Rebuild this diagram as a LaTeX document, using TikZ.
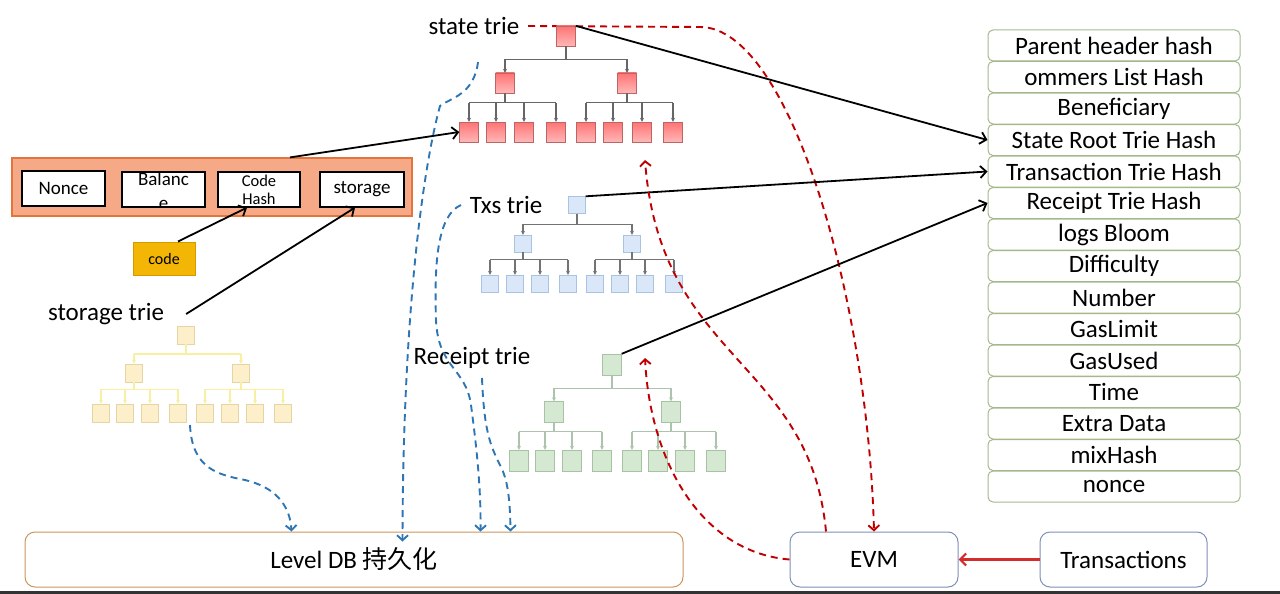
\documentclass[tikz,border=0pt]{standalone}
\usepackage{fontspec}
\setmainfont{Carlito}
\newfontfamily\cjkfont{Noto Sans CJK SC}
\usetikzlibrary{positioning, arrows.meta, calc, backgrounds}

\definecolor{hdgreen}{HTML}{A3B98C}
\definecolor{acctfill}{HTML}{F5A987}
\definecolor{acctdraw}{HTML}{E2743E}
\definecolor{codefill}{HTML}{F3B605}
\definecolor{codedraw}{HTML}{D49A00}
\definecolor{dbdraw}{HTML}{C9965C}
\definecolor{evmdraw}{HTML}{7F8FB8}
\definecolor{dbblue}{HTML}{2E75B6}
\definecolor{evmred}{HTML}{C00000}
\definecolor{txred}{HTML}{D42C2C}
\definecolor{txsfill}{HTML}{DAE7F8}
\definecolor{txsdraw}{HTML}{A9C3E2}
\definecolor{rcptfill}{HTML}{D5E8D2}
\definecolor{rcptdraw}{HTML}{A7C4A2}
\definecolor{storfill}{HTML}{FDEFC9}
\definecolor{stordraw}{HTML}{E6D5A4}

\tikzset{
  field/.style={draw=black, fill=white, line width=1.2pt, minimum width=83pt, minimum height=35pt, inner sep=0pt, font=\fontsize{19}{23}\selectfont},
  acctbox/.style={draw=acctdraw, fill=acctfill, line width=1.2pt, minimum width=400pt, minimum height=58pt},
  codebox/.style={draw=codedraw, fill=codefill, line width=1pt, minimum width=62pt, minimum height=33pt, font=\fontsize{16}{19}\selectfont},
  hdbox/.style={draw=hdgreen, fill=white, rounded corners=5pt, line width=1pt, minimum width=252pt, minimum height=31pt, inner sep=0pt, font=\fontsize{25}{29}\selectfont},
  bigbox/.style={fill=white, rounded corners=10pt, line width=1pt, minimum height=55pt, font=\fontsize{25}{29}\selectfont},
  trielabel/.style={inner sep=0pt, font=\fontsize{25}{29}\selectfont},
  statebox/.style={draw=red!55!black!60, top color=red!55!white, bottom color=red!28!white, minimum width=19pt, minimum height=20pt, inner sep=0pt},
  stateline/.style={draw=black!60, line width=1.1pt},
  txsbox/.style={draw=txsdraw, fill=txsfill, minimum width=17pt, minimum height=17pt, inner sep=0pt},
  txsline/.style={draw=black!55, line width=1.1pt},
  storbox/.style={draw=stordraw, fill=storfill, minimum width=17pt, minimum height=18pt, inner sep=0pt},
  storline/.style={draw=brown!30!yellow!40, line width=1.1pt},
  rcptbox/.style={draw=rcptdraw, fill=rcptfill, minimum width=19pt, minimum height=21pt, inner sep=0pt},
  rcptline/.style={draw=green!15!gray!55, line width=1.1pt},
  treetip/.style={-{Stealth[length=4pt,width=4pt]}},
  link/.style={line width=1.8pt, -{Straight Barb[length=6pt,width=12pt]}},
  redlink/.style={draw=txred, line width=2.2pt, -{Straight Barb[length=6pt,width=12pt]}},
  bluedash/.style={draw=dbblue, line width=1.9pt, dash pattern=on 7pt off 5pt, -{Straight Barb[length=5pt,width=11pt]}},
  reddash/.style={draw=evmred, line width=1.9pt, dash pattern=on 7pt off 5pt, -{Straight Barb[length=5pt,width=11pt]}}
}

% one trie: prefix, kind, root, level y, leaf y, left x, right x, leaf xs
\newcommand{\trie}[8]{%
  \node[#2box] (#1r) at (#3) {};
  \node[#2box] (#1a) at (#6,#4) {};
  \node[#2box] (#1b) at (#7,#4) {};
  \foreach \x [count=\i] in {#8} \node[#2box] (#1l\i) at (\x,#5) {};
  \coordinate (#1m) at ($(#1r.south)!.5!(#1r.south |- #1a.north)$);
  \coordinate (#1n) at ($(#1a.south)!.33!(#1a.south |- #1l1.north)$);
  \draw[#2line] (#1r.south) -- (#1m) (#1a |- #1m) -- (#1b |- #1m)
    (#1a.south) -- (#1a |- #1n) (#1b.south) -- (#1b |- #1n)
    (#1l1 |- #1n) -- (#1l4 |- #1n) (#1l5 |- #1n) -- (#1l8 |- #1n);
  \draw[#2line, treetip] (#1a |- #1m) -- (#1a.north);
  \draw[#2line, treetip] (#1b |- #1m) -- (#1b.north);
  \foreach \i in {1,...,8} \draw[#2line, treetip] (#1l\i |- #1n) -- (#1l\i.north);
}

\begin{document}
\begin{tikzpicture}[x=1pt, y=-1pt]
  \useasboundingbox (0,0) rectangle (1280,594);

  % block header
  \foreach \t [count=\i] in {Parent header hash, ommers List Hash, Beneficiary, State Root Trie Hash, Transaction Trie Hash, Receipt Trie Hash, logs Bloom, Difficulty, Number, GasLimit, GasUsed, Time, Extra Data, mixHash, nonce}
    \node[hdbox] (hd\i) at (1114,{45.5+31.5*(\i-1)}) {\t};

  % account
  \node[acctbox] (account) at (212,187) {};
  \node[field] (nonce) at (63.5,188.5) {Nonce};
  \node[field, path picture={\node[font=\fontsize{19}{24}\selectfont, align=center, inner sep=0pt] at ([yshift=-1.5pt]path picture bounding box.center) {Balanc\\e};}] (balance) at (163.5,189.5) {};
  \node[field, minimum width=82pt, align=center, font=\fontsize{16.5}{18}\selectfont] (codehash) at (259,189.5) {Code\\Hash};
  \node[field, minimum width=84pt] (storage) at (362,189.5) {storage};
  \node[codebox] (code) at (164,258.5) {code};

  % tries
  \node[trielabel] (statelabel) at (474,26) {state trie};
  \trie{s}{state}{566,36}{83}{132}{505}{627}{469,496,524,556,586,613,642,673}
  \node[trielabel] (txslabel) at (506,205) {Txs trie};
  \trie{t}{txs}{577,205}{243.5}{283.5}{523}{632}{490,515,540,568,595,620,645,674}
  \node[trielabel] (storagelabel) at (106,314) {storage trie};
  \trie{g}{stor}{186,335}{373}{413}{134}{241}{101,125,150,178,205,230,255,283}
  \node[trielabel] (receiptlabel) at (472,358) {Receipt trie};
  \trie{r}{rcpt}{612,364.5}{412}{460.5}{554}{671}{519,545,572,602,632,658,685,716}

  % bottom row
  \node[bigbox, draw=dbdraw, minimum width=658pt] (leveldb) at (354,559.5) {Level DB {\cjkfont 持久化}};
  \node[bigbox, draw=evmdraw, minimum width=168pt] (evm) at (874,559.5) {EVM};
  \node[bigbox, draw=evmdraw, minimum width=167pt] (trans) at (1123.5,559.5) {Transactions};
  \fill[black!80] (0,591) rectangle (1280,594);

  % links
  \draw[link] ([xshift=78pt]account.north) -- (sl1.west);
  \draw[link] ([xshift=14pt]code.north) -- ([xshift=-12pt]codehash.south);
  \draw[link] ([xshift=22pt]storagelabel.east) -- ([xshift=-7pt]storage.south);
  \draw[link] (sr.north east) -- (hd4.west);
  \draw[link] (tr.north east) -- (hd5.west);
  \draw[link] (rr.north east) -- (hd6.west);
  \draw[redlink] (trans.west) -- (evm.east);

  % persisted to level db
  \coordinate (gdrop) at (190,425);
  \coordinate (sdrop) at (478,62);
  \coordinate (tdrop) at (461,205);
  \coordinate (rdrop) at (482,378);
  \draw[bluedash] (gdrop) .. controls (192,470) and (220,475) .. (245,480) .. controls (275,487) and (290,505) .. ([xshift=267pt]leveldb.north west);
  \draw[bluedash] (sdrop) .. controls (474,95) and (450,98) .. (440,106) .. controls (425,160) and (403,300) .. ([xshift=378pt,yshift=-10pt]leveldb.north west);
  \draw[bluedash] (tdrop) .. controls (438,215) and (434,260) .. (436,320) .. controls (438,368) and (466,368) .. (471,405) .. controls (477,450) and (481,490) .. ([xshift=456pt]leveldb.north west);
  \draw[bluedash] (rdrop) .. controls (484,430) and (490,445) .. (500,465) .. controls (508,480) and (510,500) .. ([xshift=486pt]leveldb.north west);

  % evm
  \coordinate (rtop) at (528,26);
  \coordinate (rbend) at (700,27);
  \coordinate (stip) at (645,160);
  \coordinate (rtip) at (645,358);
  \begin{pgfonlayer}{background}
    \draw[reddash] (rtop) -- (rbend) .. controls (790,27) and (868,300) .. (evm.north);
  \end{pgfonlayer}
  \draw[reddash] (evm.west) .. controls (700,552) and (650,460) .. (rtip);
  \draw[reddash] ([xshift=-48pt]evm.north) .. controls (810,360) and (660,360) .. (stip);
\end{tikzpicture}
\end{document}
